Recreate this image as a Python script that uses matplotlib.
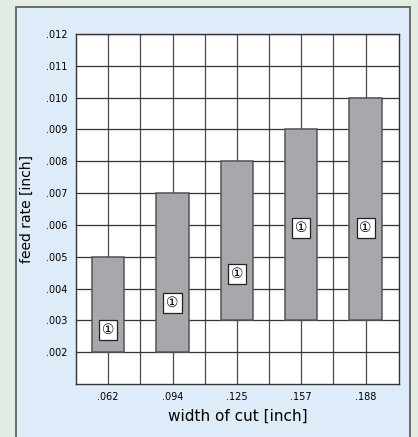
import matplotlib.pyplot as plt
import matplotlib.patches as mpatches
import numpy as np

widths = ['.062', '.094', '.125', '.157', '.188']
feed_low = [0.002, 0.002, 0.003, 0.003, 0.003]
feed_high = [0.005, 0.007, 0.008, 0.009, 0.010]
marker_y = [0.0027, 0.00355, 0.00445, 0.0059, 0.0059]
yticks = [0.002, 0.003, 0.004, 0.005, 0.006, 0.007, 0.008, 0.009, 0.010, 0.011, 0.012]

W, H = 418, 437
fig = plt.figure(figsize=(W / 100, H / 100), dpi=100, facecolor='#e3ece3')

# light blue panel, drawn behind the axes
panel = mpatches.Rectangle((16 / W, -0.05), (410 - 16) / W, 1 - 7 / H + 0.05,
                           transform=fig.transFigure, facecolor='#deebf8',
                           edgecolor='#555555', linewidth=1.2, zorder=-10)
fig.patches.append(panel)

ax = fig.add_axes([76 / W, 1 - 384 / H, (399 - 76) / W, (384 - 34) / H])
ax.set_facecolor('white')

x = np.arange(len(widths))
ax.set_xlim(-0.5, 4.52)
ax.set_ylim(0.001, 0.012)

# grid
for gx in np.arange(0, 4.1, 0.5):
    ax.axvline(gx, color='#4a4a4a', lw=0.9, zorder=1)
for gy in yticks:
    ax.axhline(gy, color='#333333', lw=0.9, zorder=1)

heights = [h - l for h, l in zip(feed_high, feed_low)]
ax.bar(x, heights, bottom=feed_low, width=0.5, color='#a7a8ab',
       edgecolor='#555555', linewidth=1.1, zorder=3)

for xi, yi in zip(x, marker_y):
    ax.text(xi, yi, '\u2460', ha='center', va='center', fontsize=10,
            family=['DejaVu Sans', 'Noto Sans CJK SC'], zorder=4,
            bbox=dict(boxstyle='square,pad=0.2', facecolor='white',
                      edgecolor='#222222', linewidth=0.9))

ax.set_xticks(x)
ax.set_xticklabels(widths, fontsize=7)
ax.set_yticks(yticks)
ax.set_yticklabels(['.%03d' % round(v * 1000) for v in yticks], fontsize=7)
ax.tick_params(length=0, pad=6)
for s in ax.spines.values():
    s.set_color('#333333')
    s.set_linewidth(1.0)

ax.set_xlabel('width of cut [inch]', fontsize=11, labelpad=5)
ax.set_ylabel('feed rate [inch]', fontsize=10, labelpad=9)

fig.savefig('out.png', dpi=100, facecolor=fig.get_facecolor())
